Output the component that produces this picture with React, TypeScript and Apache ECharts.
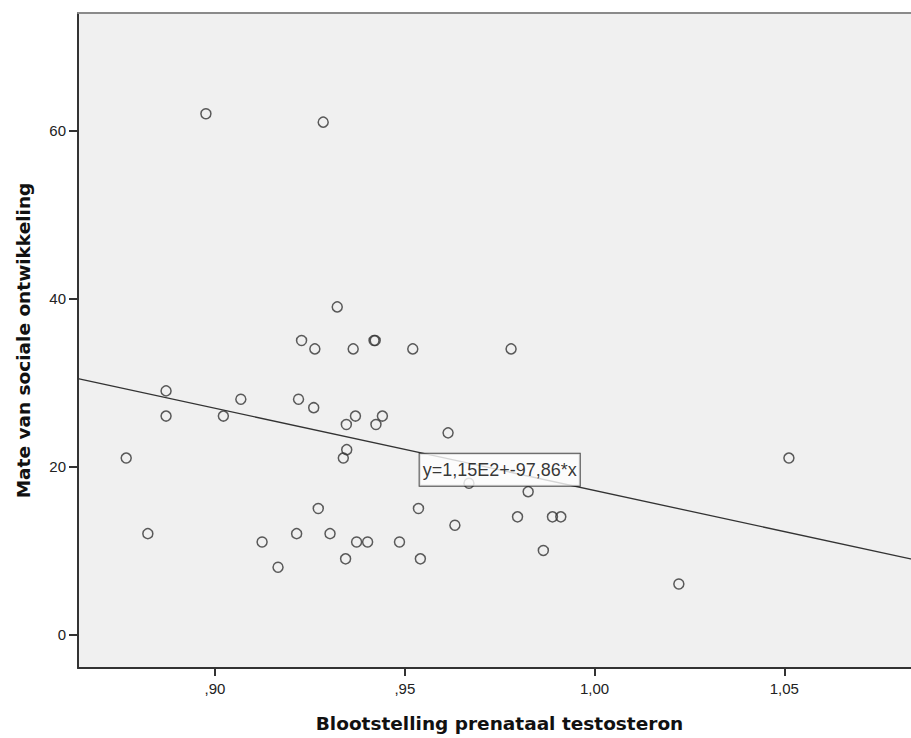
import React, { useEffect, useRef } from "react";
import * as echarts from "echarts";

// Blootstelling prenataal testosteron (x) and Mate van sociale ontwikkeling (y)
const xValues = [
  0.8766, 0.8823, 0.8871, 0.8871, 0.8976, 0.9022, 0.9068, 0.9124, 0.9166, 0.9215,
  0.922, 0.9228, 0.926, 0.9263, 0.9272, 0.9285, 0.9303, 0.9322, 0.9338, 0.9347,
  0.9346, 0.9344, 0.9364, 0.937, 0.9373, 0.9402, 0.9419, 0.9422, 0.9424, 0.9441,
  0.9486, 0.9521, 0.9536, 0.9541, 0.9614, 0.9632, 0.9669, 0.978, 0.9797, 0.9825,
  0.9865, 0.9889, 0.9911, 1.0222, 1.0512,
];
const yValues = [
  21, 12, 29, 26, 62, 26, 28, 11, 8, 12,
  28, 35, 27, 34, 15, 61, 12, 39, 21, 22,
  25, 9, 34, 26, 11, 11, 35, 35, 25, 26,
  11, 34, 15, 9, 24, 13, 18, 34, 14, 17,
  10, 14, 14, 6, 21,
];

const xTicks = [0.9, 0.95, 1.0, 1.05];
const xTickLabels = [",90", ",95", "1,00", "1,05"];
const yTicks = [0, 20, 40, 60];
const yTickLabels = ["0", "20", "40", "60"];

const xRange = [0.8639, 1.086];
const yRange = [-4, 74];

const intercept = 115;
const slope = -97.86;
const equationText = "y=1,15E2+-97,86*x";
const equationAt = [0.975, 19.6];

const xTitle = "Blootstelling prenataal testosteron";
const yTitle = "Mate van sociale ontwikkeling";

export default function App() {
  const ref = useRef<HTMLDivElement>(null);

  useEffect(() => {
    if (!ref.current) return;
    const chart = echarts.init(ref.current, undefined, { renderer: "svg" });

    const points = xValues.map((x, i) => [x, yValues[i]]);
    const fit = xRange.map((x) => [x, intercept + slope * x]);

    const tickLabelStyle = {
      fontFamily: "Liberation Sans, Arial, sans-serif",
      fontSize: 15,
      color: "#222",
    };
    const titleStyle = {
      fontFamily: "DejaVu Sans, Verdana, sans-serif",
      fontSize: 18.5,
      fontWeight: "bold" as const,
      color: "#111",
    };

    chart.setOption({
      animation: false,
      grid: {
        left: 78,
        right: 0,
        top: 13,
        bottom: 69,
        show: true,
        backgroundColor: "#f0f0f0",
        borderWidth: 0,
      },
      xAxis: [
        {
          type: "value",
          min: xRange[0],
          max: xRange[1],
          name: xTitle,
          nameLocation: "middle",
          nameGap: 46,
          nameTextStyle: titleStyle,
          splitLine: { show: false },
          axisLine: { show: true, onZero: false, lineStyle: { color: "#333", width: 2 } },
          axisTick: {
            show: true,
            length: 8,
            customValues: xTicks,
            lineStyle: { color: "#333", width: 2 },
          },
          axisLabel: {
            ...tickLabelStyle,
            margin: 13,
            customValues: xTicks,
            formatter: (v: number) => {
              const i = xTicks.findIndex((t) => Math.abs(t - v) < 1e-6);
              return i >= 0 ? xTickLabels[i] : "";
            },
          },
        },
        {
          type: "value",
          position: "top",
          min: xRange[0],
          max: xRange[1],
          splitLine: { show: false },
          axisLine: { show: true, onZero: false, lineStyle: { color: "#8a8a8a", width: 2 } },
          axisTick: { show: false },
          axisLabel: { show: false },
        },
      ],
      yAxis: {
        type: "value",
        min: yRange[0],
        max: yRange[1],
        name: yTitle,
        nameLocation: "middle",
        nameGap: 45,
        nameTextStyle: titleStyle,
        splitLine: { show: false },
        axisLine: { show: true, onZero: false, lineStyle: { color: "#333", width: 2 } },
        axisTick: {
          show: true,
          length: 9,
          customValues: yTicks,
          lineStyle: { color: "#333", width: 2 },
        },
        axisLabel: {
          ...tickLabelStyle,
          margin: 12,
          customValues: yTicks,
          formatter: (v: number) => {
            const i = yTicks.findIndex((t) => Math.abs(t - v) < 1e-6);
            return i >= 0 ? yTickLabels[i] : "";
          },
        },
      },
      series: [
        {
          type: "line",
          data: fit,
          symbol: "none",
          lineStyle: { color: "#333", width: 1.3 },
          z: 2,
          silent: true,
        },
        {
          type: "scatter",
          data: points,
          symbol: "circle",
          symbolSize: 10,
          itemStyle: { color: "rgba(0,0,0,0)", borderColor: "#333", borderWidth: 1.5 },
          z: 3,
          silent: true,
        },
        {
          type: "scatter",
          data: [equationAt],
          symbolSize: 1,
          itemStyle: { color: "rgba(0,0,0,0)" },
          z: 10,
          silent: true,
          label: {
            show: true,
            position: "inside",
            formatter: equationText,
            fontFamily: "Liberation Sans, Arial, sans-serif",
            fontSize: 18,
            lineHeight: 20,
            color: "#000",
            backgroundColor: "#fff",
            borderColor: "#222",
            borderWidth: 1,
            padding: [6, 3, 6, 3],
          },
        },
      ],
    });

    return () => chart.dispose();
  }, []);

  return (
    <div
      ref={ref}
      style={{ position: "fixed", left: 0, top: 0, width: 921, height: 738, background: "#fff" }}
    />
  );
}
